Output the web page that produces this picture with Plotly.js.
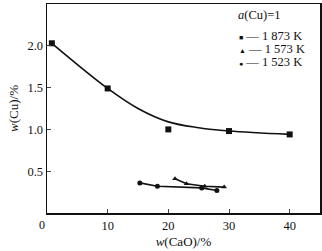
<!DOCTYPE html>
<html><head><meta charset="utf-8">
<script src="https://cdn.plot.ly/plotly-3.0.1.min.js"></script>
<style>html,body{margin:0;padding:0;background:#fff}#c{width:322px;height:251px}</style>
</head><body><div id="c"></div>
<script>
// measured points
var x1873 = [0.8, 10, 20, 30, 40];
var y1873 = [2.03, 1.49, 1.00, 0.98, 0.94];
// fitted curve for 1873 K
var xFit1873 = [0.8, 10, 15, 20, 25, 30, 40];
var yFit1873 = [2.03, 1.49, 1.25, 1.09, 1.02, 0.98, 0.94];
var x1573 = [21.1, 23.0, 26.0, 29.2];
var y1573 = [0.41, 0.35, 0.32, 0.31];
var x1523 = [15.3, 18.2, 25.5, 28.0];
var y1523 = [0.36, 0.32, 0.30, 0.27];
var seriesNames = ['1 873 K', '1 573 K', '1 523 K'];
var legendGlyphs = ['\u25A0', '\u25B2', '\u25CF'];
var xTicks = [0, 10, 20, 30, 40];
var yTicks = [0.5, 1.0, 1.5, 2.0, 2.5];

var F = 'Liberation Serif, Times New Roman, serif';
function tr(x, y, mode, sym, sz, shape, sm) {
  return {x: x, y: y, type: 'scatter', mode: mode,
    line: {color: '#111', width: 1.6, shape: shape, smoothing: sm},
    marker: {symbol: sym, size: sz, color: '#111'}, showlegend: false};
}
var data = [
  tr(xFit1873, yFit1873, 'lines', 'square', 6, 'spline', 1.0),
  tr(x1873, y1873, 'markers', 'square', 6, 'linear', 0),
  tr(x1573, y1573, 'lines+markers', 'triangle-up', 5, 'linear', 0),
  tr(x1523, y1523, 'lines+markers', 'circle', 5, 'linear', 0)
];
function py(p) { return (213 - p) / 209; }
function px(p) { return (p - 47) / 273; }
var ann = [
  {xref: 'paper', yref: 'paper', x: px(236), y: py(15), xanchor: 'left', yanchor: 'middle',
   text: '<i>a</i>(Cu)=1', showarrow: false, font: {family: F, size: 12.5, color: '#111'}}
];
var rowsY = [36, 49, 62];
for (var i = 0; i < seriesNames.length; i++) {
  ann.push({xref: 'paper', yref: 'paper', x: px(237), y: py(rowsY[i]), xanchor: 'left', yanchor: 'middle',
    text: '<span style="font-size:7px">' + legendGlyphs[i] + '</span> \u2014 ' + seriesNames[i],
    showarrow: false, font: {family: F, size: 12.5, color: '#111'}});
}
ann.push({xref: 'x', yref: 'y', x: 0, y: 0, xanchor: 'right', yanchor: 'top', xshift: 0, yshift: -3,
  text: '0', showarrow: false, font: {family: F, size: 12, color: '#111'}});
var layout = {
  width: 322, height: 251,
  margin: {l: 47, r: 2, t: 4, b: 38},
  paper_bgcolor: '#fff', plot_bgcolor: '#fff',
  font: {family: F, size: 12, color: '#111'},
  xaxis: {range: [0, 45], tickvals: xTicks.slice(1), ticks: 'inside', ticklen: 4, tickwidth: 1,
    showline: true, mirror: true, linecolor: '#111', linewidth: 1.5, showgrid: false, zeroline: false,
    title: {text: '<i>w</i>(CaO)/%', font: {family: F, size: 13}, standoff: 5},
    tickfont: {family: F, size: 12.5}},
  yaxis: {range: [0, 2.5], tickvals: yTicks, ticktext: yTicks.map(function(v){return v.toFixed(1);}),
    ticks: 'inside', ticklen: 4, tickwidth: 1,
    showline: true, mirror: true, linecolor: '#111', linewidth: 1.5, showgrid: false, zeroline: false,
    title: {text: '<i>w</i>(Cu)/%', font: {family: F, size: 13}, standoff: 6},
    tickfont: {family: F, size: 12.5}},
  annotations: ann
};
Plotly.newPlot('c', data, layout, {staticPlot: true, displayModeBar: false});
</script></body></html>
